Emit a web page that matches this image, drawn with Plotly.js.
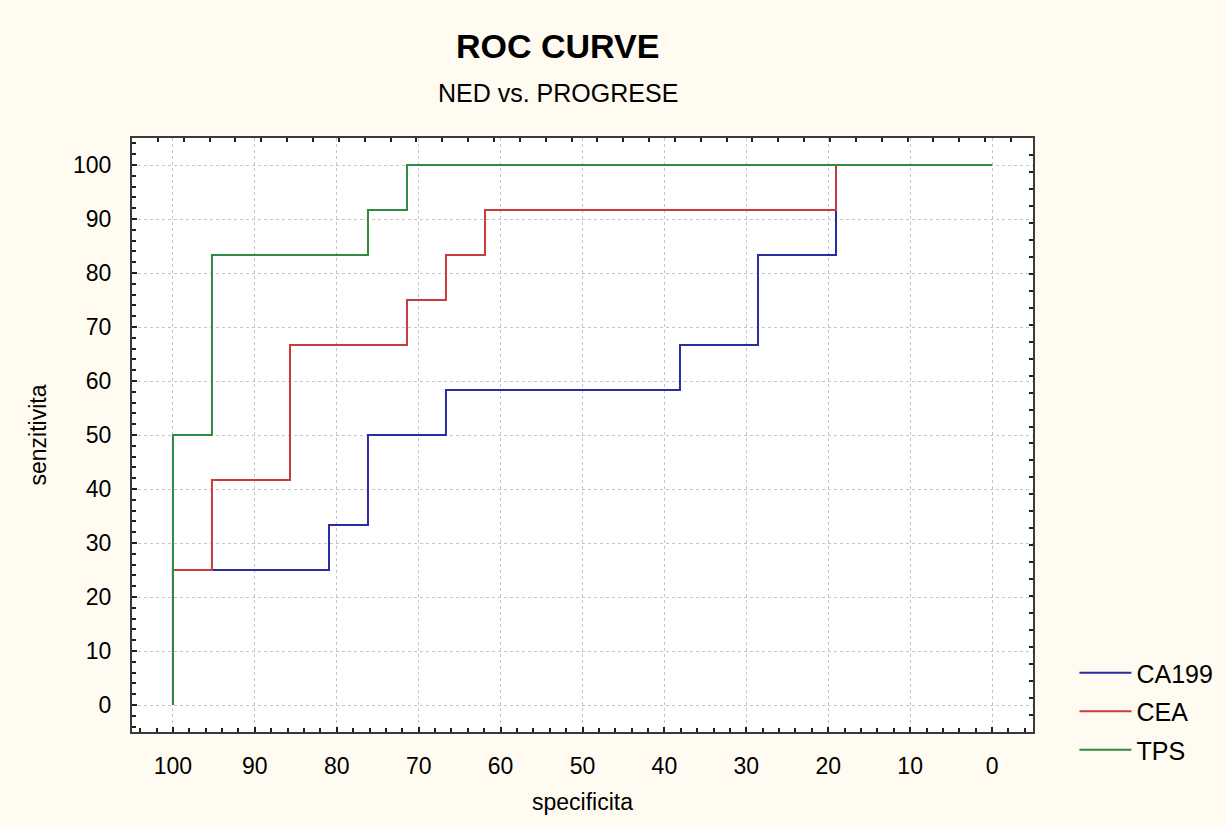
<!DOCTYPE html>
<html>
<head>
<meta charset="utf-8">
<script src="https://cdn.plot.ly/plotly-3.0.1.min.js"></script>
<style>
  html, body { margin: 0; padding: 0; background: #FFFBF0; }
  #chart { width: 1226px; height: 827px; }
</style>
</head>
<body>
<div id="chart"></div>
<script>
// ROC step curves: specificity (%) on x, sensitivity (%) on y
const ca199Spec = [100, 100, 80.95, 76.19, 66.67, 38.10, 28.57, 19.05, 19.05, 0];
const ca199Sens = [0, 25, 33.33, 50, 58.33, 66.67, 83.33, 91.67, 100, 100];

const ceaSpec = [100, 100, 95.24, 85.71, 71.43, 66.67, 61.90, 19.05, 0];
const ceaSens = [0, 25, 41.67, 66.67, 75, 83.33, 91.67, 100, 100];

const tpsSpec = [100, 100, 95.24, 76.19, 71.43, 0];
const tpsSens = [0, 50, 83.33, 91.67, 100, 100];

const seriesNames = ['CA199', 'CEA', 'TPS'];
const seriesColors = ['#2B2BA6', '#C83C3C', '#2F8A42'];

const xTicks = [100, 90, 80, 70, 60, 50, 40, 30, 20, 10, 0];
const yTicks = [0, 10, 20, 30, 40, 50, 60, 70, 80, 90, 100];

const FONT = 'Liberation Sans, Arial, sans-serif';

function stepTrace(x, y, i) {
  return {
    x: x, y: y, name: seriesNames[i], legendgroup: seriesNames[i],
    type: 'scatter', mode: 'lines',
    line: { shape: 'hv', color: seriesColors[i], width: 2 },
    hoverinfo: 'x+y+name'
  };
}

const traces = [
  stepTrace(ca199Spec, ca199Sens, 0),
  stepTrace(ceaSpec, ceaSens, 1),
  stepTrace(tpsSpec, tpsSens, 2),
  // carrier for the top and right tick rows of the frame
  { x: [0], y: [0], xaxis: 'x2', yaxis: 'y2', mode: 'markers',
    marker: { opacity: 0 }, showlegend: false, hoverinfo: 'skip' }
];

const layout = {
  width: 1226, height: 827,
  paper_bgcolor: '#FFFBF0',
  plot_bgcolor: '#FFFFFF',
  font: { family: FONT, color: '#000000', size: 23 },
  margin: { l: 132, r: 193, t: 138, b: 95, autoexpand: false },
  showlegend: true,
  legend: {
    x: 1.046, y: 0.138, xanchor: 'left', yanchor: 'top',
    bgcolor: 'rgba(0,0,0,0)', font: { family: FONT, size: 25 },
    tracegroupgap: 3, itemwidth: 52
  },
  xaxis: {
    range: [105, -5], tickmode: 'array', tickvals: xTicks,
    ticks: 'inside', ticklen: 5, tickwidth: 1.5, tickcolor: '#202020',
    minor: { dtick: 2, ticks: 'inside', ticklen: 4, tickwidth: 1.5, tickcolor: '#202020', showgrid: false },
    showline: true, linecolor: '#3A3A3A', linewidth: 2, mirror: true,
    showgrid: true, gridcolor: '#C6C6C6', griddash: 'dot', gridwidth: 1,
    zeroline: false, ticklabelstandoff: 12,
    tickfont: { family: FONT, size: 23 },
    title: { text: 'specificita', font: { family: FONT, size: 23 }, standoff: 16 }
  },
  yaxis: {
    range: [-5, 105], tickmode: 'array', tickvals: yTicks,
    ticks: 'inside', ticklen: 5, tickwidth: 1.5, tickcolor: '#202020',
    minor: { dtick: 2, ticks: 'inside', ticklen: 4, tickwidth: 1.5, tickcolor: '#202020', showgrid: false },
    showline: true, linecolor: '#3A3A3A', linewidth: 2, mirror: true,
    showgrid: true, gridcolor: '#C6C6C6', griddash: 'dot', gridwidth: 1,
    zeroline: false, ticklabelstandoff: 14,
    tickfont: { family: FONT, size: 23 },
    title: { text: 'senzitivita', font: { family: FONT, size: 23 }, standoff: 20 }
  },
  xaxis2: {
    overlaying: 'x', side: 'top', range: [0, 34.85], dtick: 1, tick0: 0,
    ticks: 'inside', ticklen: 4, tickwidth: 1.5, tickcolor: '#202020',
    showticklabels: false, showgrid: false, showline: false, zeroline: false, fixedrange: true
  },
  yaxis2: {
    overlaying: 'y', side: 'right', range: [0, 35], dtick: 1, tick0: 0,
    ticks: 'inside', ticklen: 4, tickwidth: 1.5, tickcolor: '#202020',
    showticklabels: false, showgrid: false, showline: false, zeroline: false, fixedrange: true
  },
  annotations: [
    { text: '<b>ROC CURVE</b>', xref: 'paper', yref: 'paper', x: 0.4728, y: 1.155,
      xanchor: 'center', yanchor: 'middle', showarrow: false,
      font: { family: FONT, size: 34, color: '#000000' } },
    { text: 'NED vs. PROGRESE', xref: 'paper', yref: 'paper', x: 0.4728, y: 1.076,
      xanchor: 'center', yanchor: 'middle', showarrow: false,
      font: { family: FONT, size: 25, color: '#000000' } }
  ]
};

Plotly.newPlot('chart', traces, layout, { displayModeBar: false });
</script>
</body>
</html>
